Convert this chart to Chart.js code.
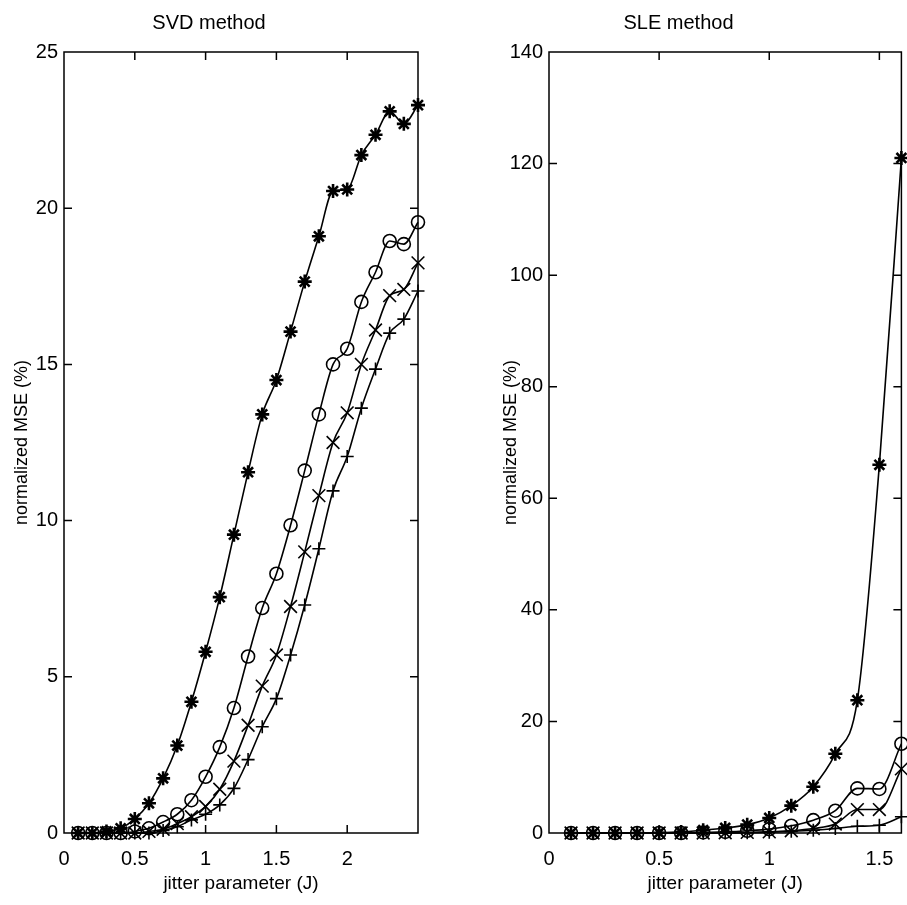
<!DOCTYPE html>
<html lang="en">
<head>
  <meta charset="UTF-8" />
  <title>SVD / SLE method - normalized MSE vs jitter</title>
  <script src="https://cdn.jsdelivr.net/npm/chart.js"></script>
  <style>
    body { margin: 0; background: #fff; overflow: hidden; }
    #wrap { position: relative; width: 907px; height: 905px; overflow: hidden; }
    canvas { position: absolute; top: 0; }
    #svd { left: 0; }
    #sle { left: 455px; }
  </style>
</head>
<body>
  <div id="wrap">
    <canvas id="svd" width="455" height="905"></canvas>
    <canvas id="sle" width="457" height="905"></canvas>
  </div>

  <script>
    // jitter parameter values (x)
    const svdJ = [0.1, 0.2, 0.3, 0.4, 0.5, 0.6, 0.7, 0.8, 0.9, 1.0, 1.1, 1.2, 1.3,
                  1.4, 1.5, 1.6, 1.7, 1.8, 1.9, 2.0, 2.1, 2.2, 2.3, 2.4, 2.5];
    const sleJ = [0.1, 0.2, 0.3, 0.4, 0.5, 0.6, 0.7, 0.8, 0.9, 1.0, 1.1, 1.2, 1.3,
                  1.4, 1.5, 1.6];

    // SVD method, normalized MSE (%)
    const svdStar   = [0, 0, 0.05, 0.15, 0.45, 0.95, 1.75, 2.8, 4.2, 5.8, 7.55, 9.55, 11.55,
                       13.4, 14.5, 16.05, 17.65, 19.1, 20.55, 20.6, 21.7, 22.35, 23.1, 22.7, 23.3];
    const svdCircle = [0, 0, 0, 0, 0.05, 0.15, 0.35, 0.6, 1.05, 1.8, 2.75, 4.0, 5.65,
                       7.2, 8.3, 9.85, 11.6, 13.4, 15.0, 15.5, 17.0, 17.95, 18.95, 18.85, 19.55];
    const svdCross  = [0, 0, 0, 0, 0, 0.05, 0.12, 0.3, 0.52, 0.85, 1.4, 2.3, 3.45,
                       4.7, 5.7, 7.25, 9.0, 10.8, 12.5, 13.45, 15.0, 16.1, 17.2, 17.4, 18.25];
    const svdPlus   = [0, 0, 0, 0, 0, 0, 0.08, 0.2, 0.42, 0.6, 0.9, 1.43, 2.35,
                       3.4, 4.3, 5.7, 7.3, 9.1, 10.95, 12.05, 13.6, 14.85, 16.0, 16.45, 17.35];

    // SLE method, normalized MSE (%)
    const sleStar   = [0, 0, 0, 0, 0.05, 0.2, 0.5, 0.9, 1.5, 2.7, 4.9, 8.3, 14.2, 23.8, 66, 121];
    const sleCircle = [0, 0, 0, 0, 0, 0, 0.1, 0.2, 0.4, 0.7, 1.3, 2.3, 4.0, 8.0, 7.9, 16.0];
    const sleCross  = [0, 0, 0, 0, 0, 0, 0, 0.05, 0.1, 0.2, 0.4, 0.8, 1.6, 4.2, 4.2, 11.5];
    const slePlus   = [0, 0, 0, 0, 0, 0, 0, 0, 0.05, 0.15, 0.3, 0.5, 0.8, 1.2, 1.4, 2.9];

    // axis ticks
    const svdXTicks = [0, 0.5, 1, 1.5, 2];
    const sleXTicks = [0, 0.5, 1, 1.5];

    const FONT = "'Liberation Sans', Arial, Helvetica, sans-serif";

    // matlab style box with inward tick marks
    const boxTicks = {
      id: 'boxTicks',
      afterDatasetsDraw(chart) {
        const { ctx, chartArea: a, scales } = chart;
        const len = 8;
        ctx.save();
        ctx.strokeStyle = '#000';
        ctx.lineWidth = 1.5;
        ctx.strokeRect(a.left, a.top, a.right - a.left, a.bottom - a.top);
        ctx.beginPath();
        scales.x.ticks.forEach(t => {
          if (t.value <= scales.x.min || t.value >= scales.x.max) return;
          const px = scales.x.getPixelForValue(t.value);
          ctx.moveTo(px, a.bottom); ctx.lineTo(px, a.bottom - len);
          ctx.moveTo(px, a.top); ctx.lineTo(px, a.top + len);
        });
        scales.y.ticks.forEach(t => {
          if (t.value <= scales.y.min || t.value >= scales.y.max) return;
          const py = scales.y.getPixelForValue(t.value);
          ctx.moveTo(a.left, py); ctx.lineTo(a.left + len, py);
          ctx.moveTo(a.right, py); ctx.lineTo(a.right - len, py);
        });
        ctx.stroke();
        ctx.restore();
      }
    };

    function series(xs, ys, style, radius, width) {
      return {
        data: xs.map((x, i) => ({ x, y: ys[i] })),
        borderColor: '#000',
        borderWidth: 1.6,
        pointStyle: style,
        pointRadius: radius,
        pointBorderColor: '#000',
        pointBackgroundColor: 'rgba(0,0,0,0)',
        pointBorderWidth: width,
        cubicInterpolationMode: 'monotone',
        fill: false,
        clip: false
      };
    }

    function markers(xs, star, circle, cross, plus) {
      return [
        series(xs, star, 'star', 7, 2.6),
        series(xs, circle, 'circle', 6.5, 1.6),
        series(xs, cross, 'crossRot', 9, 1.6),
        series(xs, plus, 'cross', 6.5, 1.6)
      ];
    }

    function makeChart(id, title, datasets, xMax, xTicks, yMax, yStep, yWidth, yTitlePad, padRight) {
      return new Chart(document.getElementById(id), {
        type: 'line',
        data: { datasets },
        plugins: [boxTicks],
        options: {
          responsive: false,
          animation: false,
          layout: { padding: { left: 0, right: padRight, top: 0, bottom: 0 } },
          plugins: {
            legend: { display: false },
            tooltip: { enabled: false },
            title: {
              display: true,
              text: title,
              color: '#000',
              font: { family: FONT, size: 20, weight: 'normal' },
              padding: { top: 11, bottom: 17 }
            }
          },
          scales: {
            x: {
              type: 'linear',
              min: 0,
              max: xMax,
              afterBuildTicks: s => { s.ticks = xTicks.map(v => ({ value: v })); },
              afterFit: s => { s.height = 72; },
              grid: { display: false, drawTicks: false },
              border: { display: false },
              ticks: {
                color: '#000',
                padding: 14,
                maxRotation: 0,
                font: { family: FONT, size: 20 },
                callback: v => String(v)
              },
              title: {
                display: true,
                text: 'jitter parameter (J)',
                color: '#000',
                font: { family: FONT, size: 19 },
                padding: { top: 4, bottom: 10 }
              }
            },
            y: {
              min: 0,
              max: yMax,
              afterFit: s => { s.width = yWidth; },
              grid: { display: false, drawTicks: false },
              border: { display: false },
              ticks: {
                stepSize: yStep,
                color: '#000',
                padding: 6,
                font: { family: FONT, size: 20 }
              },
              title: {
                display: true,
                text: 'normalized MSE (%)',
                color: '#000',
                font: { family: FONT, size: 18 },
                padding: { top: yTitlePad, bottom: 4 }
              }
            }
          }
        }
      });
    }

    makeChart('svd', 'SVD method', markers(svdJ, svdStar, svdCircle, svdCross, svdPlus),
      2.5, svdXTicks, 25, 5, 64, 11, 37);

    makeChart('sle', 'SLE method', markers(sleJ, sleStar, sleCircle, sleCross, slePlus),
      1.6, sleXTicks, 140, 20, 94, 45, 10);
  </script>
</body>
</html>
